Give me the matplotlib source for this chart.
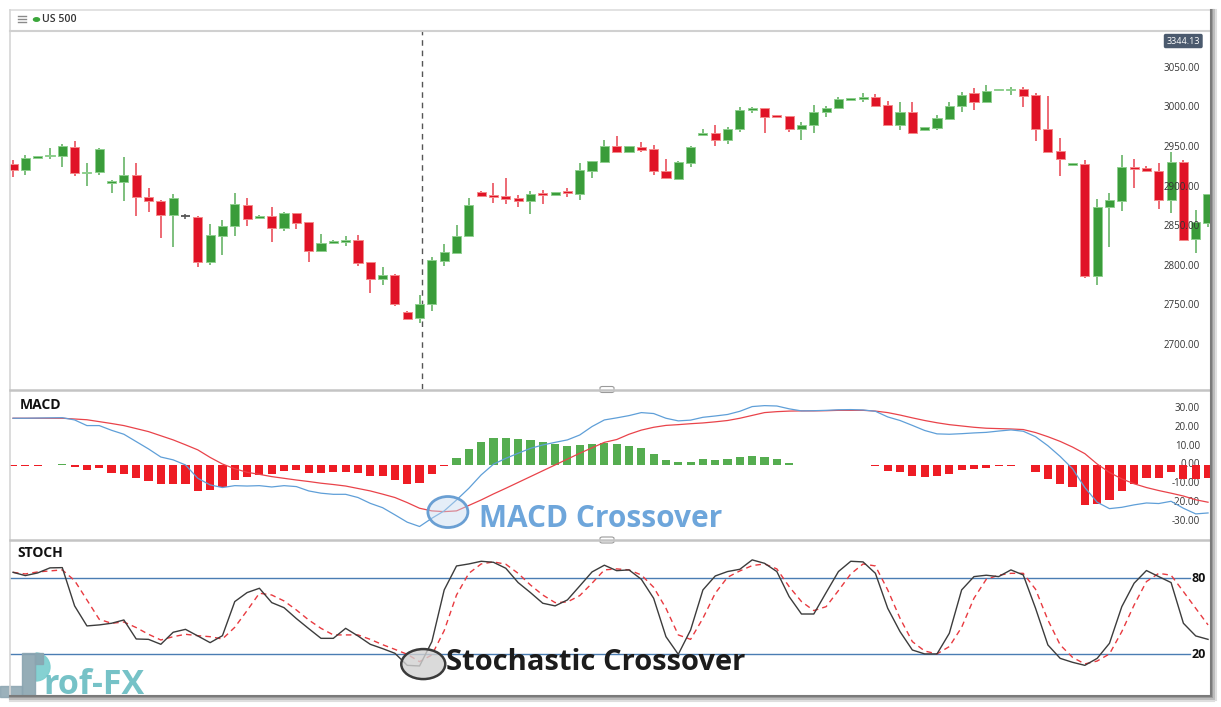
import matplotlib
matplotlib.use("Agg")
import matplotlib.pyplot as plt
from matplotlib.patches import Rectangle, Ellipse, FancyBboxPatch, Circle, Wedge
from matplotlib.lines import Line2D
import numpy as np

W, H = 1221, 707
plt.rcParams["font.family"] = ["Open Sans", "DejaVu Sans"]

# ---- price candles (US 500) ----
opens = [2929, 2922, 2938, 2939, 2940, 2951, 2918, 2919, 2906, 2907,
         2915, 2887, 2883, 2865, 2863, 2862, 2806, 2839, 2851, 2878,
         2861, 2864, 2848, 2867, 2856, 2819, 2830, 2832, 2833, 2805,
         2784, 2789, 2742, 2735, 2752, 2807, 2817, 2838, 2894, 2890,
         2889, 2886, 2883, 2892, 2890, 2894, 2892, 2921, 2932, 2952,
         2945, 2951, 2948, 2920, 2910, 2931, 2966, 2968, 2960, 2973,
         2998, 3000, 2990, 2990, 2974, 2978, 2995, 3000, 3011, 3011,
         3014, 3004, 2979, 2995, 2972, 2975, 2986, 3003, 3019, 3007,
         3023, 3023, 3024, 3016, 2973, 2946, 2928, 2929, 2788, 2875,
         2883, 2926, 2924, 2920, 2884, 2932, 2835, 2855]
highs = [2934, 2941, 2940, 2949, 2955, 2958, 2931, 2949, 2909, 2938,
         2930, 2899, 2884, 2891, 2866, 2864, 2853, 2859, 2893, 2886,
         2865, 2875, 2869, 2867, 2856, 2841, 2833, 2838, 2840, 2805,
         2799, 2790, 2744, 2764, 2812, 2828, 2852, 2886, 2895, 2905,
         2911, 2890, 2895, 2897, 2894, 2899, 2931, 2933, 2960, 2965,
         2952, 2957, 2953, 2935, 2933, 2952, 2974, 2978, 2976, 3001,
         3001, 3000, 2991, 2990, 2982, 3004, 3003, 3014, 3012, 3019,
         3018, 3009, 3007, 3007, 2976, 2991, 3007, 3020, 3025, 3029,
         3024, 3027, 3027, 3019, 3015, 2962, 2931, 2934, 2885, 2893,
         2941, 2936, 2927, 2930, 2944, 2934, 2871, 2892]
lows = [2913, 2915, 2938, 2936, 2925, 2914, 2901, 2915, 2893, 2882,
        2863, 2869, 2836, 2825, 2860, 2799, 2802, 2814, 2839, 2851,
        2861, 2831, 2845, 2847, 2805, 2818, 2829, 2826, 2800, 2766,
        2776, 2750, 2732, 2728, 2744, 2800, 2817, 2838, 2888, 2880,
        2879, 2875, 2866, 2879, 2890, 2887, 2884, 2911, 2932, 2943,
        2944, 2944, 2915, 2910, 2910, 2926, 2965, 2952, 2955, 2970,
        2994, 2968, 2988, 2970, 2960, 2968, 2989, 2999, 3010, 3007,
        3001, 2978, 2972, 2968, 2971, 2972, 2985, 2995, 2997, 3006,
        3023, 3016, 3001, 2958, 2944, 2914, 2927, 2785, 2777, 2824,
        2870, 2899, 2919, 2872, 2867, 2832, 2817, 2850]
closes = [2922, 2937, 2939, 2941, 2952, 2918, 2919, 2948, 2907, 2915,
          2887, 2883, 2865, 2886, 2863, 2806, 2840, 2851, 2879, 2860,
          2863, 2848, 2867, 2855, 2819, 2830, 2832, 2833, 2804, 2784,
          2789, 2752, 2734, 2752, 2808, 2818, 2839, 2877, 2889, 2888,
          2885, 2883, 2891, 2891, 2894, 2893, 2922, 2933, 2952, 2944,
          2952, 2947, 2920, 2911, 2932, 2951, 2968, 2960, 2973, 2997,
          3000, 2989, 2989, 2974, 2979, 2995, 3000, 3011, 3012, 3014,
          3003, 2979, 2995, 2969, 2976, 2987, 3003, 3017, 3007, 3022,
          3024, 3024, 3015, 2973, 2945, 2935, 2931, 2788, 2875, 2884,
          2925, 2923, 2920, 2884, 2932, 2833, 2856, 2892]
price_ticks = [2700, 2750, 2800, 2850, 2900, 2950, 3000, 3050]
last_price = "3344.13"
marker_bar = 33

# ---- MACD ----
macd_hist = [-0.3, -0.3, -0.3, -0.1, 0.3, -1.1, -2.8, -1.8, -4.2, -5.0,
             -7.1, -8.5, -10.3, -9.9, -10.3, -13.8, -13.5, -11.5, -8.0, -6.5,
             -5.3, -5.0, -3.2, -2.5, -4.2, -4.2, -3.9, -3.5, -4.2, -6.0,
             -6.0, -8.1, -10.1, -9.4, -4.6, -0.4, 3.5, 8.5, 12.2, 14.2,
             14.5, 13.8, 13.5, 12.4, 11.3, 9.9, 10.4, 11.0, 11.5, 11.0,
             10.3, 8.8, 5.7, 2.7, 1.4, 1.8, 3.2, 2.8, 3.2, 4.4,
             5.0, 4.1, 3.2, 1.2, -0.2, -0.2, -0.2, 0.2, 0.2, 0.2,
             -0.4, -3.0, -3.5, -5.7, -6.5, -6.0, -5.0, -2.8, -2.3, -1.4,
             -0.7, -0.4, -0.2, -3.9, -7.6, -10.3, -11.7, -21.2, -20.9, -18.8,
             -13.8, -9.9, -7.1, -7.1, -3.9, -7.4, -7.4, -7.0]
macd_line = [24.8, 24.8, 24.9, 25.0, 25.1, 23.9, 20.9, 20.9, 18.4, 16.3,
             12.4, 8.5, 4.2, 2.7, 0.0, -7.1, -10.6, -12.0, -11.0, -11.2,
             -11.0, -11.7, -11.0, -11.5, -13.8, -15.0, -15.6, -15.6, -17.3, -20.4,
             -22.7, -26.5, -30.4, -32.7, -28.3, -24.4, -18.6, -12.4, -5.3, 0.4,
             3.5, 6.2, 8.8, 10.6, 12.0, 13.3, 15.9, 20.4, 23.9, 25.0,
             26.2, 27.8, 27.3, 24.8, 23.4, 23.8, 25.3, 26.0, 26.8, 28.5,
             31.0, 31.5, 31.3, 29.8, 28.7, 28.8, 29.0, 29.3, 29.4, 29.2,
             28.5, 25.5, 23.6, 21.0, 18.3, 16.5, 16.3, 16.6, 17.0, 17.3,
             18.0, 18.6, 17.9, 15.0, 10.2, 4.5, -2.0, -12.0, -19.8, -23.2,
             -22.5, -21.2, -20.2, -20.5, -19.3, -23.0, -26.0, -25.5]
signal_line = [24.8, 24.8, 24.8, 24.8, 24.8, 24.4, 24.0, 23.0, 22.0, 20.9,
               19.3, 17.7, 15.5, 13.3, 10.7, 8.0, 4.0, 0.5, -2.0, -3.9,
               -5.0, -6.2, -7.1, -8.0, -8.8, -9.7, -10.4, -11.2, -12.5, -13.8,
               -15.5, -17.3, -20.0, -23.0, -24.4, -24.8, -24.4, -21.5, -18.6, -15.4,
               -12.4, -9.3, -6.2, -3.1, 0.0, 3.1, 6.2, 9.1, 12.0, 13.5,
               16.3, 18.5, 20.0, 21.0, 21.4, 21.9, 22.3, 22.9, 23.6, 24.8,
               26.3, 27.8, 28.3, 28.6, 28.7, 28.7, 28.8, 29.0, 29.0, 29.0,
               28.6, 27.8, 26.5, 25.0, 23.6, 22.4, 21.4, 20.7, 20.0, 19.5,
               19.3, 19.1, 18.8, 17.2, 15.0, 12.5, 9.5, 6.0, 0.5, -4.0,
               -7.4, -10.0, -12.0, -13.6, -15.0, -16.5, -18.5, -19.8]
macd_ticks = [30, 20, 10, 0, -10, -20, -30]
macd_cross = (35.3, -25.0)

# ---- Stochastic ----
stoch_k = [84.7, 82.1, 84.2, 88.2, 88.4, 58.2, 42.4, 43.2, 44.5, 47.1,
           32.1, 31.8, 27.9, 37.4, 39.7, 34.5, 29.2, 34.7, 61.6, 68.7,
           72.1, 60.8, 56.8, 48.2, 40.3, 32.6, 32.6, 40.5, 34.5, 27.9,
           24.5, 20.8, 11.3, 10.8, 30.0, 70.8, 89.7, 91.3, 93.4, 92.6,
           87.9, 76.6, 68.7, 60.3, 58.2, 62.9, 73.9, 85.0, 90.3, 86.0,
           86.6, 79.2, 64.2, 33.9, 20.0, 39.2, 70.8, 81.8, 85.3, 87.1,
           94.5, 91.8, 85.3, 65.5, 51.8, 51.8, 68.7, 85.3, 93.4, 92.9,
           83.9, 56.3, 37.9, 23.4, 20.3, 20.3, 36.6, 70.8, 81.3, 82.4,
           81.3, 86.6, 82.6, 56.3, 27.4, 16.8, 13.7, 11.3, 16.8, 28.7,
           57.6, 76.1, 86.1, 81.3, 76.6, 44.5, 34.5, 31.8]
stoch_d = [84.7, 83.4, 85.0, 85.8, 86.6, 78.2, 62.9, 47.6, 44.5, 45.5,
           41.1, 35.8, 31.3, 33.9, 35.8, 34.7, 33.9, 32.1, 41.3, 54.5,
           68.2, 66.8, 62.1, 55.0, 47.1, 40.5, 35.3, 35.3, 35.3, 31.8,
           27.6, 23.9, 20.0, 14.2, 19.5, 38.7, 66.8, 83.9, 91.3, 92.9,
           91.1, 83.9, 74.7, 66.8, 60.8, 61.3, 66.3, 76.1, 86.6, 87.4,
           86.6, 82.6, 72.9, 56.3, 35.3, 31.8, 48.4, 68.2, 80.8, 85.8,
           90.0, 91.3, 87.4, 73.4, 61.6, 54.5, 57.6, 70.3, 83.4, 91.3,
           89.7, 70.8, 48.4, 30.0, 22.6, 20.3, 26.1, 41.3, 64.2, 79.2,
           82.4, 83.9, 83.9, 71.3, 47.1, 27.4, 17.6, 12.4, 14.7, 20.3,
           37.9, 58.9, 77.4, 83.9, 82.4, 69.5, 56.3, 43.2]
stoch_levels = [80, 20]
stoch_cross = (33.3, 12.3)

# ---------------------------------------------------------------
fig = plt.figure(figsize=(W / 100, H / 100), dpi=100)
fig.patch.set_facecolor("white")


def px_rect(x0, y0, x1, y1):
    return [x0 / W, 1 - y1 / H, (x1 - x0) / W, (y1 - y0) / H]


def fx(x):
    return x / W


def fy(y):
    return 1 - y / H


ax_p = fig.add_axes(px_rect(10, 31, 1210, 389))
ax_m = fig.add_axes(px_rect(10, 390, 1210, 538))
ax_s = fig.add_axes(px_rect(10, 541, 1210, 695))

idx = np.arange(len(opens))
xlim = ((10 - 13) / 12.32, (1210 - 13) / 12.32)
for ax in (ax_p, ax_m, ax_s):
    ax.set_xlim(*xlim)
    ax.set_xticks([])
    ax.set_yticks([])
    for s in ax.spines.values():
        s.set_visible(False)
    ax.set_facecolor("white")

# ---- candles ----
ax_p.set_ylim(2645.2, 3097.2)
o = np.array(opens); c = np.array(closes)
hi = np.array(highs); lo = np.array(lows)
up = c > o
dn = c < o
flat = c == o
g_col, g_edge = "#3a9c3a", "#8fd08f"
r_col, r_edge = "#e01326", "#f48a8a"
body_h = np.maximum(np.abs(c - o), 2.2)
body_b = np.minimum(o, c) - (body_h - np.abs(c - o)) / 2

ax_p.vlines(idx[up], lo[up], hi[up], color="#5aae5a", lw=1.1, zorder=2)
ax_p.vlines(idx[dn], lo[dn], hi[dn], color="#e8414e", lw=1.1, zorder=2)
ax_p.vlines(idx[flat], lo[flat], hi[flat], color="#555555", lw=1.1, zorder=2)
ax_p.bar(idx[up], body_h[up], bottom=body_b[up], width=0.74, color=g_col,
         edgecolor=g_edge, lw=0.7, zorder=3)
ax_p.bar(idx[dn], body_h[dn], bottom=body_b[dn], width=0.74, color=r_col,
         edgecolor=r_edge, lw=0.7, zorder=3)
ax_p.hlines(c[flat], idx[flat] - 0.37, idx[flat] + 0.37, color="#555555", lw=1.3, zorder=3)

ax_p.axvline(marker_bar + 0.2, color="#555555", lw=1.0, ls=(0, (4, 3.5)), zorder=1)

ytr = ax_p.get_yaxis_transform()
lab_x = (1200 - 10) / 1200
for p in price_ticks:
    ax_p.text(lab_x, p, f"{p:.2f}", transform=ytr, ha="right", va="center",
              fontsize=7, color="#333333", zorder=5)
ax_p.text(lab_x, 0.972, last_price, transform=ax_p.transAxes, ha="right", va="center",
          fontsize=6.5, color="white", zorder=6,
          bbox=dict(boxstyle="round,pad=0.3,rounding_size=0.2", fc="#4b5a6e", ec="none"))

# ---- MACD ----
ax_m.set_ylim(-38.8, 39.8)
hist = np.array(macd_hist)
pale = np.abs(hist) < 0.3
h_col = np.where(hist >= 0, "#55ad50", "#ee1c24")
for i in idx:
    ax_m.bar(i, hist[i], width=0.66, color=h_col[i], alpha=0.22 if pale[i] else 1.0,
             edgecolor="none", zorder=3)
ax_m.plot(idx, signal_line, color="#e9434a", lw=0.9, zorder=4)
ax_m.plot(idx, macd_line, color="#5f9fd8", lw=0.9, zorder=4)
ytr = ax_m.get_yaxis_transform()
for t in macd_ticks:
    ax_m.text(lab_x, t, f"{t:.2f}", transform=ytr, ha="right", va="center",
              fontsize=7, color="#333333", zorder=2)
ax_m.text(0.0085, 0.9, "MACD", transform=ax_m.transAxes, ha="left", va="center",
          fontsize=10, fontweight="bold", color="#111111")
ax_m.add_patch(Ellipse(macd_cross, 40 / 12.32, 31 / 1.883, fc=(0.78, 0.86, 0.94, 0.45),
                       ec="#6a9fd3", lw=2, zorder=6))
fig.text(fx(479), fy(519), "MACD Crossover", ha="left", va="center", fontsize=21.5,
         fontweight="bold", color="#6ea6db")

# ---- Stochastic ----
ax_s.set_ylim(-12.1, 109.4)
for lv in stoch_levels:
    ax_s.axhline(lv, xmin=0, xmax=0.983, color="#4a7db3", lw=1.0, zorder=2)
    ax_s.text((1199 - 10) / 1200, lv, str(lv), transform=ax_s.get_yaxis_transform(),
              ha="center", va="center", fontsize=9, fontweight="bold", color="#111111")
ax_s.plot(idx, stoch_d, color="#e83a40", lw=1.0, ls=(0, (4, 3)), zorder=3)
ax_s.plot(idx, stoch_k, color="#3c3c3c", lw=1.0, zorder=4)
ax_s.text(0.006, 0.92, "STOCH", transform=ax_s.transAxes, ha="left", va="center",
          fontsize=10, fontweight="bold", color="#111111")
ax_s.add_patch(Ellipse(stoch_cross, 44 / 12.32, 30 / 1.267, fc=(0.82, 0.82, 0.82, 0.8),
                       ec="#3a3a3a", lw=1.8, zorder=6))
fig.text(fx(446), fy(662), "Stochastic Crossover", ha="left", va="center", fontsize=21,
         fontweight="bold", color="#1c1c1c")

# ---- frame, header, separators ----
def fline(x0, y0, x1, y1, **kw):
    fig.add_artist(Line2D([fx(x0), fx(x1)], [fy(y0), fy(y1)], transform=fig.transFigure, **kw))


fline(10, 10, 1210, 10, color="#dddddd", lw=1.2)
fline(10, 10, 10, 695, color="#d5d5d5", lw=1.2)
fline(10, 31, 1210, 31, color="#d0d0d0", lw=1.5)
fline(10, 389.5, 1210, 389.5, color="#c4c4c4", lw=1.8)
fline(10, 539.5, 1210, 539.5, color="#c4c4c4", lw=1.8)
for k, col in enumerate(["#7a7a7a", "#9a9a9a", "#bcbcbc", "#dedede"]):
    fline(1211 + k * 1.5, 10, 1211 + k * 1.5, 697 + k, color=col, lw=1.5)
    fline(10, 696 + k * 1.5, 1211 + k, 696 + k * 1.5, color=col, lw=1.5)

for yy in (16, 19, 22):
    fline(18, yy, 26, yy, color="#8a8a8a", lw=1.0)
fig.add_artist(Circle((fx(36.5), fy(19.5)), 3 / W, transform=fig.transFigure,
                      color="#3aa63a"))
fig.text(fx(42), fy(19.5), "US 500", ha="left", va="center", fontsize=7.6,
         fontweight="semibold", color="#333333")

for hy in (389.5, 540):
    fig.add_artist(FancyBboxPatch((fx(600), fy(hy + 3)), 14 / W, 6 / H,
                                  boxstyle="round,pad=0,rounding_size=0.002",
                                  transform=fig.transFigure, fc="white", ec="#9a9a9a", lw=0.8))

# ---- watermark logo (pixel units via inches) ----
pin = fig.dpi_scale_trans
fig.add_artist(Wedge((0.36, (H - 667) / 100), 0.14, -90, 90, transform=pin,
                     color="#7ecfd0", alpha=0.95))
fig.add_artist(Rectangle((0.22, (H - 700) / 100), 0.13, 0.47, transform=pin,
                         color="#8aa4b0", alpha=0.9))
fig.add_artist(Rectangle((0.35, (H - 664) / 100), 0.08, 0.11, transform=pin,
                         color="#8aa4b0", alpha=0.9))
fig.add_artist(Rectangle((0.0, (H - 697) / 100), 0.22, 0.11, transform=pin,
                         color="#8aa4b0", alpha=0.85))
fig.text(fx(43), fy(685), "rof-FX", ha="left", va="center", fontsize=24.5,
         fontweight="bold", color="#6fbfc4", alpha=0.95)

fig.savefig("out.png", dpi=100, facecolor="white")
